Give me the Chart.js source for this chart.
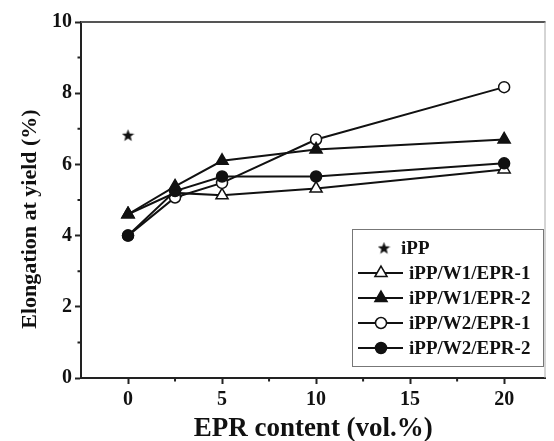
<!DOCTYPE html>
<html>
<head>
<meta charset="utf-8">
<script src="https://cdn.jsdelivr.net/npm/chart.js@4.4.1/dist/chart.umd.min.js"></script>
<style>
  html, body { margin: 0; padding: 0; background: #fff; }
  #wrap { width: 554px; height: 441px; }
</style>
</head>
<body>
<div id="wrap"><canvas id="c"></canvas></div>
<script>
// data
const eprContent = [0, 2.5, 5, 10, 20];
const ippValue = 6.82;
const w1Epr1 = [4.6, 5.2, 5.13, 5.32, 5.86];
const w1Epr2 = [4.6, 5.38, 6.1, 6.42, 6.7];
const w2Epr1 = [4.0, 5.07, 5.48, 6.7, 8.17];
const w2Epr2 = [4.0, 5.25, 5.66, 5.66, 6.03];
const seriesNames = ['iPP', 'iPP/W1/EPR-1', 'iPP/W1/EPR-2', 'iPP/W2/EPR-1', 'iPP/W2/EPR-2'];
const xTicks = [0, 5, 10, 15, 20];
const yTicks = [0, 2, 4, 6, 8, 10];
const xMinor = [2.5, 7.5, 12.5, 17.5];
const yMinor = [1, 3, 5, 7, 9];

const ink = '#111';
const serif = '"Liberation Serif", "Times New Roman", serif';

// filled five point star, used as a point style
function makeStar(size) {
    const c = document.createElement('canvas');
    c.width = c.height = size;
    const g = c.getContext('2d');
    const ro = size / 2, ri = ro * 0.42;
    g.beginPath();
    for (let i = 0; i < 10; i++) {
        const r = i % 2 ? ri : ro;
        const a = -Math.PI / 2 + i * Math.PI / 5;
        g.lineTo(ro + r * Math.cos(a), ro + 0.5 + r * Math.sin(a));
    }
    g.closePath();
    g.fillStyle = ink;
    g.fill();
    return c;
}
const star = makeStar(13);

const toPts = ys => ys.map((y, i) => ({ x: eprContent[i], y }));

function series(label, ys, style, filled, order) {
    return {
        label,
        data: toPts(ys),
        borderColor: ink,
        borderWidth: 2,
        pointStyle: style,
        pointRadius: style === 'triangle' ? 7 : 5.5,
        pointBorderWidth: 1.5,
        pointBorderColor: ink,
        pointBackgroundColor: filled ? ink : '#fff',
        pointHoverRadius: 0,
        order
    };
}

const datasets = [
    {
        label: seriesNames[0],
        data: [{ x: eprContent[0], y: ippValue }],
        showLine: false,
        pointStyle: star,
        pointRadius: 6,
        order: 0
    },
    series(seriesNames[1], w1Epr1, 'triangle', false, 2),
    series(seriesNames[2], w1Epr2, 'triangle', true, 0),
    series(seriesNames[3], w2Epr1, 'circle', false, 1),
    series(seriesNames[4], w2Epr2, 'circle', true, 0)
];

// extras: frame, minor ticks, axis titles, legend box
const extras = {
    id: 'extras',
    afterDraw(chart) {
        const { ctx, chartArea: a, scales: { x, y } } = chart;
        ctx.save();
        // top and right frame
        ctx.strokeStyle = '#555';
        ctx.lineWidth = 2;
        ctx.beginPath();
        ctx.moveTo(a.left, a.top);
        ctx.lineTo(a.right, a.top);
        ctx.stroke();
        ctx.strokeStyle = '#aaa';
        ctx.lineWidth = 1;
        ctx.beginPath();
        ctx.moveTo(a.right - 0.5, a.top);
        ctx.lineTo(a.right - 0.5, a.bottom);
        ctx.stroke();

        // minor ticks
        ctx.strokeStyle = '#222';
        ctx.lineWidth = 2;
        ctx.beginPath();
        xMinor.forEach(v => {
            const px = x.getPixelForValue(v);
            ctx.moveTo(px, a.bottom);
            ctx.lineTo(px, a.bottom + 3.5);
        });
        yMinor.forEach(v => {
            const py = y.getPixelForValue(v);
            ctx.moveTo(a.left, py);
            ctx.lineTo(a.left - 3.5, py);
        });
        ctx.stroke();

        // axis titles
        ctx.fillStyle = ink;
        ctx.textAlign = 'center';
        ctx.textBaseline = 'middle';
        ctx.font = 'bold 27px ' + serif;
        ctx.fillText('EPR content (vol.%)', (a.left + a.right) / 2, 429);
        ctx.translate(30, 219);
        ctx.rotate(-Math.PI / 2);
        ctx.font = 'bold 22px ' + serif;
        ctx.fillText('Elongation at yield (%)', 0, 0);
        ctx.restore();

        // legend
        ctx.save();
        ctx.fillStyle = '#fff';
        ctx.fillRect(352, 229, 191, 137);
        ctx.strokeStyle = '#777';
        ctx.lineWidth = 1;
        ctx.strokeRect(352.5, 229.5, 191, 137);
        ctx.font = 'bold 19px ' + serif;
        ctx.textBaseline = 'middle';
        datasets.forEach((ds, i) => {
            const cy = 248 + i * 25;
            const isLine = ds.showLine !== false;
            const mx = isLine ? 381 : 384;
            if (isLine) {
                ctx.strokeStyle = ink;
                ctx.lineWidth = 2;
                ctx.beginPath();
                ctx.moveTo(358, cy);
                ctx.lineTo(403, cy);
                ctx.stroke();
            }
            ctx.fillStyle = ds.pointBackgroundColor || ink;
            ctx.strokeStyle = ink;
            ctx.lineWidth = ds.pointBorderWidth || 1;
            Chart.helpers.drawPoint(ctx, {
                pointStyle: ds.pointStyle,
                radius: ds.pointRadius,
                borderWidth: ds.pointBorderWidth || 1,
                rotation: 0
            }, mx, cy);
            ctx.fillStyle = ink;
            ctx.fillText(ds.label, isLine ? 409 : 401, cy + 1);
        });
        ctx.restore();
    }
};

new Chart(document.getElementById('c'), {
    type: 'line',
    data: { datasets },
    options: {
        responsive: true,
        maintainAspectRatio: false,
        animation: false,
        layout: { padding: { top: 22, right: 3, left: 0, bottom: 0 } },
        plugins: { legend: { display: false }, tooltip: { enabled: false } },
        scales: {
            x: {
                type: 'linear',
                min: -2.5,
                max: 22.2,
                afterBuildTicks: s => { s.ticks = xTicks.map(v => ({ value: v })); },
                afterFit: s => { s.height = 63; },
                grid: { drawOnChartArea: false, tickLength: 6, tickWidth: 2, tickColor: '#222' },
                border: { width: 2, color: '#222' },
                ticks: { color: ink, padding: 4, font: { family: serif, size: 20, weight: 'bold' } }
            },
            y: {
                min: 0,
                max: 10,
                afterBuildTicks: s => { s.ticks = yTicks.map(v => ({ value: v })); },
                afterFit: s => { s.width = 81; },
                grid: { drawOnChartArea: false, tickLength: 6, tickWidth: 2, tickColor: '#222' },
                border: { width: 2, color: '#222' },
                ticks: { color: ink, padding: 3, font: { family: serif, size: 20, weight: 'bold' } }
            }
        }
    },
    plugins: [extras]
});
</script>
</body>
</html>
